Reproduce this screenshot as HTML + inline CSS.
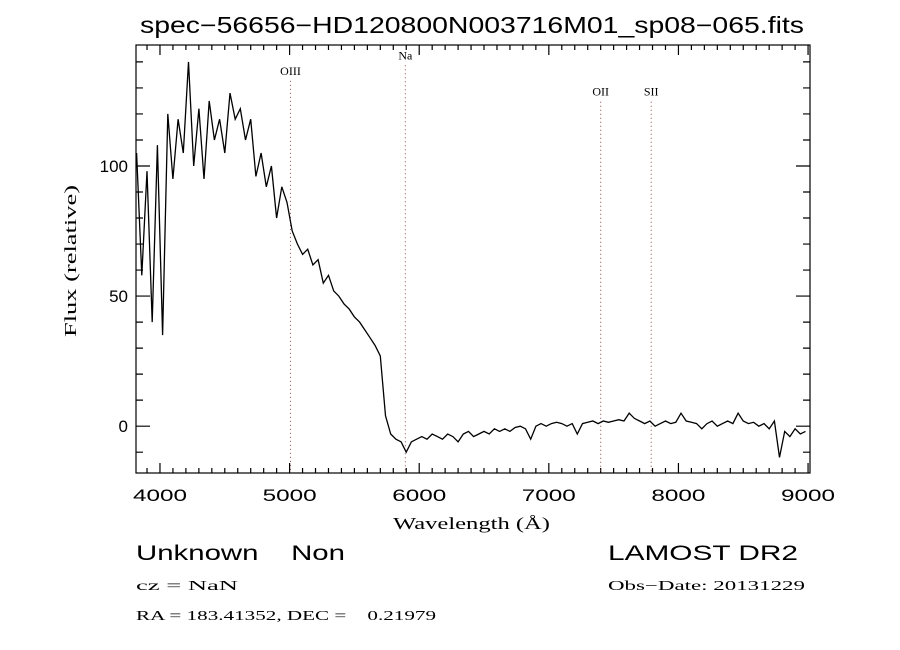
<!DOCTYPE html>
<html><head><meta charset="utf-8"><style>
body{margin:0;background:#fff;}
svg{display:block;font-family:"Liberation Sans",sans-serif;}
</style></head><body>
<svg id="chart" width="900" height="650" xmlns="http://www.w3.org/2000/svg">
<rect width="900" height="650" fill="#fff"/>
<text x="140" y="33" font-size="23" textLength="664" lengthAdjust="spacingAndGlyphs">spec−56656−HD120800N003716M01_sp08−065.fits</text>
<g id="axes"></g>
<g id="lines"></g>
<path id="spec" fill="none" stroke="#000" stroke-width="1.3"/>
<rect x="136" y="45" width="674" height="428" fill="none" stroke="#000" stroke-width="1.2"/>
<text x="393" y="529" font-size="17" font-family="Liberation Serif, serif" textLength="157" lengthAdjust="spacingAndGlyphs">Wavelength (Å)</text>
<text transform="translate(76,337) rotate(-90)" font-size="17" font-family="Liberation Serif, serif" textLength="152" lengthAdjust="spacingAndGlyphs">Flux (relative)</text>
<text x="136" y="560" font-size="21" textLength="209" lengthAdjust="spacingAndGlyphs" xml:space="preserve">Unknown    Non</text>
<text x="608" y="560" font-size="21" textLength="190" lengthAdjust="spacingAndGlyphs">LAMOST DR2</text>
<text x="136" y="590" font-size="14" font-family="Liberation Serif, serif" textLength="102" lengthAdjust="spacingAndGlyphs">cz = NaN</text>
<text x="608" y="590" font-size="14" font-family="Liberation Serif, serif" textLength="197" lengthAdjust="spacingAndGlyphs">Obs−Date: 20131229</text>
<text x="136" y="620" font-size="14" font-family="Liberation Serif, serif" textLength="300" lengthAdjust="spacingAndGlyphs" xml:space="preserve">RA = 183.41352, DEC =    0.21979</text>
</svg>
<script>
const specStart = 3820;
const specStep = 40;
const fluxValues = [105,58,98,40,108,35,120,95,118,105,140,100,122,95,125,110,118,105,128,118,122,110,118,96,105,92,100,80,92,86,75,70,66,68,62,64,55,58,52,50,47,45,42,40,37,34,31,27,4,-3,-5,-6,-10,-6,-5,
-4,-5,-3,-4,-5,-3,-4,-6,-3,-2,-4,-3,-2,-3,-1,-2,-1,-2,-0.5,0,-1,-5,0,1,0,1,1.5,1,0,1,-3,1,1.5,2,1,2,1.5,2,2.5,2,5,3,2,1,2,0,1,2,1,1.5,5,2,1.5,1,-1,1,2,0,1,2,1,5,2,1,1.5,0,1,-1,2,-12,-2,-4,-1,-3,-2];
const xTickLabels = [4000,5000,6000,7000,8000,9000];
const yTickLabels = [0,50,100];
const lineNames = ["OIII","Na","OII","SII"];
const lineWaves = [5007,5893,7400,7790];
const lineLabelFlux = [135,141,127,127];

const X0=136,X1=810,Y0=45,Y1=473,WMIN=3815,WMAX=9015,FMIN=-18,FMAX=146.5;
const xs=w=>X0+(w-WMIN)/(WMAX-WMIN)*(X1-X0);
const ys=f=>Y1-(f-FMIN)/(FMAX-FMIN)*(Y1-Y0);
const NS="http://www.w3.org/2000/svg";
const axes=document.getElementById('axes');
function mk(tag,attrs,parent){const e=document.createElementNS(NS,tag);for(const k in attrs)e.setAttribute(k,attrs[k]);parent.appendChild(e);return e;}
let d="";
for(let w=3900;w<=9000;w+=100){const x=xs(w);const big=w%1000===0;const L=big?10:5;d+=`M${x},${Y1}v${-L}M${x},${Y0}v${L}`;}
for(let f=-10;f<=140;f+=10){const y=ys(f);const big=f%50===0;const L=big?14:7;d+=`M${X0},${y}h${L}M${X1},${y}h${-L}`;}
const tk=mk('path',{d:d,stroke:'#000','stroke-width':1.2,fill:'none'},axes);


xTickLabels.forEach(v=>{const t=mk('text',{x:xs(v)-27,y:501,'font-size':17,textLength:54,lengthAdjust:'spacingAndGlyphs'},axes);t.textContent=v;

});
yTickLabels.forEach(v=>{const t=mk('text',{x:128,y:ys(v)+6,'font-size':17,'text-anchor':'end'},axes);t.textContent=v;

});
const lg=document.getElementById('lines');
lineWaves.forEach((w,i)=>{const x=xs(w);
const l=mk('line',{x1:x,x2:x,y1:ys(lineLabelFlux[i])+6,y2:Y1,stroke:'#8a4a4a','stroke-width':1,'stroke-dasharray':'1,3'},lg);


const t=mk('text',{x:x,y:ys(lineLabelFlux[i]),'font-size':12,'text-anchor':'middle','font-family':'Liberation Serif, serif'},lg);t.textContent=lineNames[i];

});
let p="";
fluxValues.forEach((f,i)=>{const w=specStart+i*specStep;p+=(i?"L":"M")+xs(w).toFixed(1)+","+ys(Math.max(FMIN,Math.min(FMAX,f))).toFixed(1);});
document.getElementById('spec').setAttribute('d',p);
</script>
</body></html>
